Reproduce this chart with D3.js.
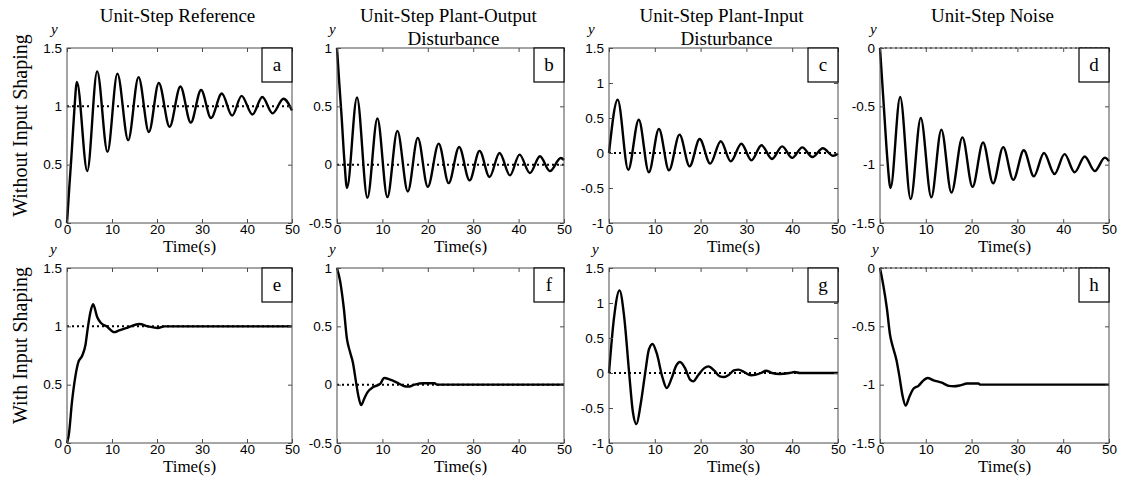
<!DOCTYPE html>
<html>
<head>
<meta charset="utf-8">
<script src="https://cdn.jsdelivr.net/npm/d3@7"></script>
<style>
  html, body { margin: 0; padding: 0; background: #ffffff; }
  svg { display: block; }
</style>
</head>
<body>
<script>
// ---------------- DATA ----------------
const xTicks = [0, 10, 20, 30, 40, 50];
const panelLetters = ["a", "b", "c", "d", "e", "f", "g", "h"];
const columnTitles = [
  ["Unit-Step Reference"],
  ["Unit-Step Plant-Output", "Disturbance"],
  ["Unit-Step Plant-Input", "Disturbance"],
  ["Unit-Step Noise"]
];
const rowTitles = ["Without Input Shaping", "With Input Shaping"];
const xLabel = "Time(s)";
const yLabel = "y";

const yTicksA = [0, 0.5, 1, 1.5];
const yTicksB = [-0.5, 0, 0.5, 1];
const yTicksC = [-1, -0.5, 0, 0.5, 1, 1.5];
const yTicksD = [-1.5, -1, -0.5, 0];

// reference (dotted) levels per panel a..h
const refLevels = [1, 0, 0, 0, 1, 0, 0, 0];

// a: unit-step reference, without input shaping
const aT = [0, 0.5, 1.0, 1.6, 2.2, 4.5, 6.7, 9.0, 11.2, 13.6, 15.9, 18.2, 20.4, 22.8, 25.2, 27.5, 29.8, 32.0, 34.4, 36.7, 38.8, 41.2, 43.4, 45.7, 48.1, 50];
const aY = [0, 0.30, 0.58, 0.95, 1.21, 0.445, 1.30, 0.61, 1.28, 0.71, 1.25, 0.78, 1.20, 0.825, 1.17, 0.86, 1.14, 0.90, 1.11, 0.92, 1.09, 0.93, 1.08, 0.94, 1.065, 0.965];

// b: plant-output disturbance, without input shaping
const bT = [0, 0.5, 1.0, 1.6, 2.2, 4.4, 6.7, 8.9, 11.1, 13.3, 15.6, 17.8, 20.0, 22.4, 24.6, 26.9, 29.2, 31.4, 33.6, 35.8, 38.1, 40.2, 42.5, 44.7, 46.9, 49.3, 50];
const bY = [1, 0.70, 0.42, 0.05, -0.20, 0.576, -0.284, 0.396, -0.278, 0.29, -0.23, 0.23, -0.19, 0.18, -0.158, 0.152, -0.135, 0.118, -0.106, 0.10, -0.092, 0.086, -0.072, 0.072, -0.055, 0.057, 0.04];

// c: plant-input disturbance, without input shaping
const cT = [0, 1.9, 4.2, 6.5, 8.7, 10.9, 13.1, 15.4, 17.6, 19.8, 22.1, 24.4, 26.6, 28.9, 31.1, 33.3, 35.6, 37.8, 40.0, 42.2, 44.4, 46.7, 48.9, 50];
const cY = [0, 0.76, -0.24, 0.476, -0.276, 0.343, -0.248, 0.262, -0.19, 0.20, -0.152, 0.167, -0.12, 0.133, -0.105, 0.11, -0.086, 0.095, -0.07, 0.08, -0.057, 0.067, -0.04, -0.01];

// d: noise, without input shaping
const dT = [0, 0.5, 1.0, 1.6, 2.3, 4.4, 6.7, 8.9, 11.2, 13.4, 15.6, 18.0, 20.2, 22.5, 24.7, 26.9, 29.1, 31.4, 33.6, 35.8, 38.1, 40.3, 42.5, 44.7, 46.9, 49.1, 50];
const dY = [0, -0.30, -0.60, -0.95, -1.20, -0.42, -1.295, -0.60, -1.28, -0.70, -1.24, -0.766, -1.19, -0.81, -1.16, -0.85, -1.13, -0.876, -1.10, -0.90, -1.08, -0.91, -1.065, -0.93, -1.055, -0.94, -0.97];

// e: unit-step reference, with input shaping
const eT = [0, 0.4, 1.1, 1.9, 2.5, 3.4, 4.1, 4.6, 5.2, 5.8, 6.7, 7.5, 8.8, 10.5, 11.6, 13.5, 16.1, 18.0, 20.2, 21.7, 50];
const eY = [0, 0.07, 0.35, 0.58, 0.69, 0.75, 0.84, 0.98, 1.12, 1.19, 1.08, 1.03, 1.0, 0.95, 0.966, 0.99, 1.02, 1.0, 0.986, 1.0, 1.0];

// f: plant-output disturbance, with input shaping
const fT = [0, 0.7, 1.5, 2.2, 2.8, 3.5, 4.2, 4.7, 5.3, 6.0, 6.7, 8.0, 9.5, 10.4, 11.7, 13.1, 14.6, 15.7, 17.1, 19.0, 21.5, 22.0, 50];
const fY = [1, 0.885, 0.655, 0.39, 0.29, 0.19, 0.02, -0.095, -0.175, -0.12, -0.066, -0.02, 0.006, 0.057, 0.043, 0.02, -0.01, -0.017, 0.0, 0.012, 0.012, 0, 0];

// g: plant-input disturbance, with input shaping
const gT = [0, 1.1, 2.3, 3.3, 4.4, 5.2, 6.0, 6.9, 7.9, 8.7, 9.5, 10.4, 11.7, 12.6, 13.7, 14.6, 15.5, 16.6, 17.7, 18.4, 19.5, 20.8, 21.7, 23.0, 24.2, 25.1, 26.2, 27.3, 28.3, 29.5, 31.0, 32.1, 33.2, 34.3, 35.6, 37.2, 39.4, 40.5, 41.7, 50];
const gY = [0, 0.79, 1.18, 0.81, 0, -0.55, -0.73, -0.45, 0, 0.334, 0.415, 0.286, -0.07, -0.215, -0.07, 0.095, 0.157, 0.07, -0.095, -0.12, -0.03, 0.07, 0.095, 0.033, -0.048, -0.057, -0.024, 0.038, 0.048, 0.014, -0.033, -0.024, 0, 0.033, 0, -0.014, 0, 0.014, 0, 0];

// h: noise, with input shaping
const hT = [0, 0.7, 1.5, 2.2, 2.8, 3.6, 4.2, 4.9, 5.6, 6.4, 7.3, 8.4, 9.5, 10.4, 11.7, 13.5, 15.0, 16.1, 17.5, 19.0, 21.5, 21.9, 50];
const hY = [0, -0.144, -0.345, -0.575, -0.675, -0.79, -0.92, -1.09, -1.18, -1.106, -1.035, -1.01, -0.963, -0.943, -0.963, -0.983, -1.01, -1.014, -1.006, -0.99, -0.99, -1.0, -1.0];

// ---------------- LAYOUT ----------------
const W = 1122, H = 486;
const colBoxes = [[67, 292], [337, 564], [609, 838], [880, 1109]];
const rowBoxes = [[48, 223], [268, 443]];
const yLabelOffsets = [16, 8, 21, 10, 17, 8, 17, 8];

const series = [
  [aT, aY, yTicksA], [bT, bY, yTicksB], [cT, cY, yTicksC], [dT, dY, yTicksD],
  [eT, eY, yTicksA], [fT, fY, yTicksB], [gT, gY, yTicksC], [hT, hY, yTicksD]
];

const serif = "'Liberation Serif', 'Times New Roman', serif";
const sans = "'Liberation Sans', Arial, sans-serif";
const axisColor = "#4d4d4d";

const svg = d3.select("body").append("svg")
  .attr("width", W).attr("height", H)
  .attr("viewBox", `0 0 ${W} ${H}`);

series.forEach((s, i) => {
  const [ts, ys, yTicks] = s;
  const col = i % 4, row = Math.floor(i / 4);
  const [L, R] = colBoxes[col];
  const [T, B] = rowBoxes[row];
  const x = d3.scaleLinear().domain([0, 50]).range([L, R]);
  const y = d3.scaleLinear().domain(d3.extent(yTicks)).range([B, T]);
  const g = svg.append("g");

  // dotted reference
  const atEdge = refLevels[i] === d3.max(yTicks);
  g.append("line")
    .attr("x1", x(0)).attr("x2", x(50))
    .attr("y1", y(refLevels[i])).attr("y2", y(refLevels[i]))
    .attr("stroke", atEdge ? "#555" : "#000").attr("stroke-width", atEdge ? 1.5 : 2)
    .attr("stroke-dasharray", "2,3");

  // curve
  const pts = ts.map((t, k) => [t, ys[k]]);
  g.append("path")
    .datum(pts)
    .attr("fill", "none")
    .attr("stroke", "#000")
    .attr("stroke-width", 2.4)
    .attr("stroke-linejoin", "round")
    .attr("d", d3.line().x(d => x(d[0])).y(d => y(d[1])).curve(d3.curveMonotoneX));

  // axes
  const gb = g.append("g").attr("transform", `translate(0,${B})`)
    .call(d3.axisBottom(x).tickValues(xTicks).tickSizeInner(-4).tickSizeOuter(0).tickPadding(1).tickFormat(d => String(d)));
  const gt = g.append("g").attr("transform", `translate(0,${T})`)
    .call(d3.axisTop(x).tickValues(xTicks).tickSizeInner(-4).tickSizeOuter(0).tickFormat(""));
  const gl = g.append("g").attr("transform", `translate(${L},0)`)
    .call(d3.axisLeft(y).tickValues(yTicks).tickSizeInner(-4).tickSizeOuter(0).tickPadding(5).tickFormat(d => String(d)));
  const gr = g.append("g").attr("transform", `translate(${R},0)`)
    .call(d3.axisRight(y).tickValues(yTicks).tickSizeInner(-4).tickSizeOuter(0).tickFormat(""));
  [gb, gt, gl, gr].forEach(a => {
    a.select(".domain").remove();
    a.selectAll(".tick line").attr("stroke", axisColor);
    a.selectAll("text").attr("font-family", sans).attr("font-size", 13.5).attr("fill", "#000");
  });

  // box
  g.append("rect")
    .attr("x", L).attr("y", T).attr("width", R - L).attr("height", B - T)
    .attr("fill", "none").attr("stroke", axisColor).attr("stroke-width", 1);

  // letter box
  g.append("rect")
    .attr("x", R - 30).attr("y", T).attr("width", 30).attr("height", 34)
    .attr("fill", "#fff").attr("stroke", "#000").attr("stroke-width", 1.2);
  g.append("text")
    .attr("x", R - 15).attr("y", T + 23)
    .attr("text-anchor", "middle")
    .attr("font-family", serif).attr("font-size", 19)
    .text(panelLetters[i]);

  // y label
  g.append("text")
    .attr("x", L - yLabelOffsets[i]).attr("y", T - 14)
    .attr("font-family", serif).attr("font-style", "italic").attr("font-size", 15)
    .text(yLabel);

  // x label
  g.append("text")
    .attr("x", (L + R) / 2 + 10).attr("y", B + 29)
    .attr("text-anchor", "middle")
    .attr("font-family", serif).attr("font-size", 17)
    .text(xLabel);

  // column title
  if (row === 0) {
    const lines = columnTitles[col];
    lines.forEach((ln, k) => {
      g.append("text")
        .attr("x", (L + R) / 2 + (k === 1 ? 3 : -2))
        .attr("y", 22 + k * 23)
        .attr("text-anchor", "middle")
        .attr("font-family", serif).attr("font-size", 19)
        .text(ln);
    });
  }
});

// row titles
rowTitles.forEach((t, r) => {
  const [T, B] = rowBoxes[r];
  svg.append("text")
    .attr("transform", `translate(27,${(T + B) / 2 - 10}) rotate(-90)`)
    .attr("text-anchor", "middle")
    .attr("font-family", serif).attr("font-size", 20)
    .text(t);
});
</script>
</body>
</html>
